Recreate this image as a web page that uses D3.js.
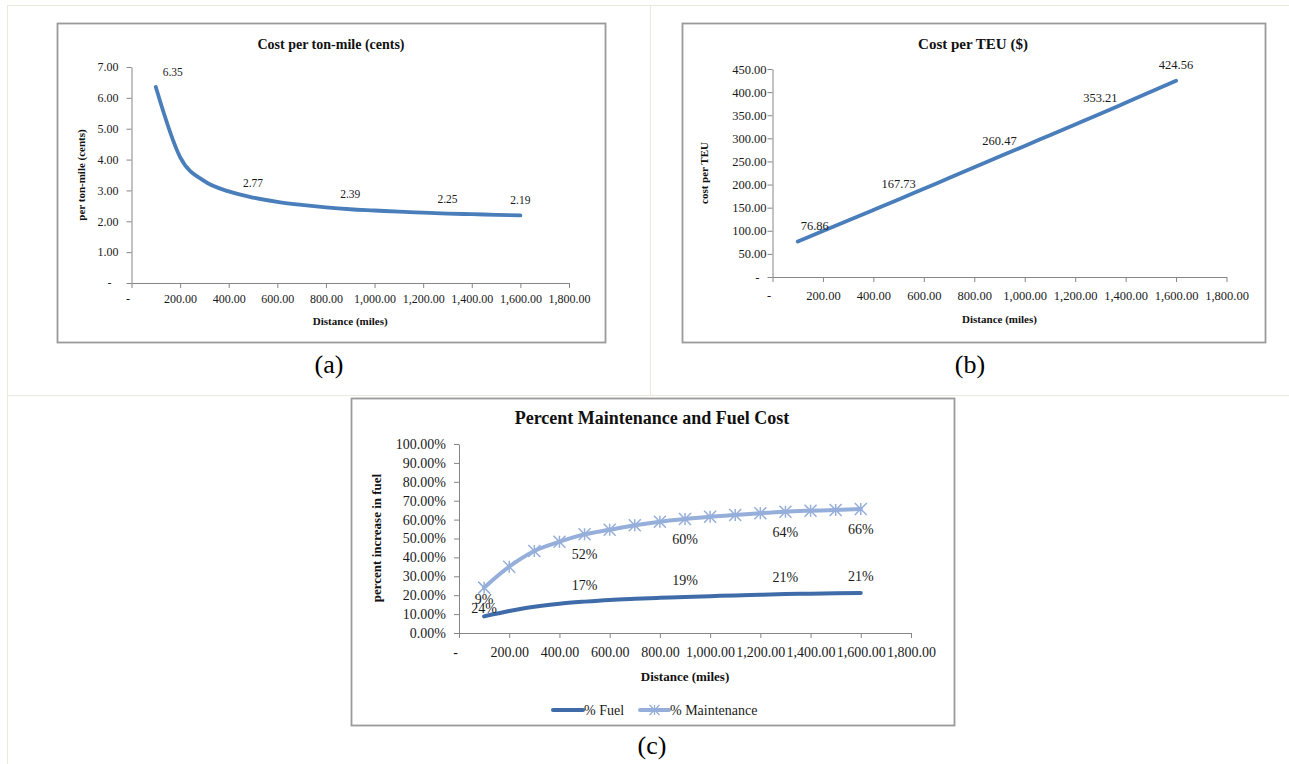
<!DOCTYPE html>
<html>
<head>
<meta charset="utf-8">
<script src="https://cdn.jsdelivr.net/npm/d3@7"></script>
<style>
  html, body { margin: 0; padding: 0; background: #fff; }
  svg { display: block; }
</style>
</head>
<body>
<svg id="chart" width="1289" height="764"></svg>
<script>
// ---------- data ----------
const distances = [100, 200, 300, 400, 500, 600, 700, 800, 900, 1000, 1100, 1200, 1300, 1400, 1500, 1600];
const xTickValues = [0, 200, 400, 600, 800, 1000, 1200, 1400, 1600, 1800];

const costPerTonMile = [6.35, 4.08, 3.30, 2.97, 2.77, 2.63, 2.53, 2.45, 2.39, 2.35, 2.31, 2.28, 2.25, 2.23, 2.21, 2.19];
const tonMileTicks = [0, 1, 2, 3, 4, 5, 6, 7];

const costPerTEU = [76.86, 99.4, 122.1, 144.9, 167.73, 190.9, 214.0, 237.2, 260.47, 283.6, 306.8, 330.0, 353.21, 376.9, 400.7, 424.56];
const teuTicks = [0, 50, 100, 150, 200, 250, 300, 350, 400, 450];

const fuelPct = [8.8, 11.6, 13.9, 15.5, 16.6, 17.5, 18.1, 18.6, 19.1, 19.5, 19.9, 20.2, 20.6, 20.8, 21.0, 21.2];
const maintenancePct = [24.0, 35.1, 43.4, 48.3, 52.2, 54.6, 57.0, 58.9, 60.3, 61.5, 62.4, 63.4, 64.2, 64.7, 65.1, 65.6];
const pctTicks = [0, 10, 20, 30, 40, 50, 60, 70, 80, 90, 100];

const labelIndices = [0, 4, 8, 12, 15];
const seriesNames = ["% Fuel", "% Maintenance"];

// ---------- helpers ----------
const FONT = "'Liberation Serif', 'Times New Roman', 'DejaVu Serif', serif";
const svg = d3.select("#chart").style("font-family", FONT);
const fmtNum = v => v === 0 ? "-" : d3.format(",.2f")(v);
const fmtPct = v => d3.format(".2f")(v) + "%";
const AXIS = "#868686";
const TXT = "#1a1a1a";

// outer table grid
const grid = svg.append("g").attr("stroke", "#ebe9dc").attr("stroke-width", 1);
grid.append("line").attr("x1", 7).attr("x2", 1289).attr("y1", 5.5).attr("y2", 5.5);
grid.append("line").attr("x1", 7.5).attr("x2", 7.5).attr("y1", 5).attr("y2", 764);
grid.append("line").attr("x1", 650.5).attr("x2", 650.5).attr("y1", 5).attr("y2", 395);
grid.append("line").attr("x1", 7).attr("x2", 1289).attr("y1", 395.5).attr("y2", 395.5);

function frame(x0, y0, x1, y1) {
  svg.append("rect").attr("x", x0 + 0.5).attr("y", y0 + 0.5)
    .attr("width", x1 - x0).attr("height", y1 - y0)
    .attr("fill", "#fff").attr("stroke", "#9a9a9a").attr("stroke-width", 1.8);
}

function styleAxis(g, size) {
  g.attr("font-family", null).attr("font-size", null);
  g.select(".domain").attr("stroke", AXIS).attr("stroke-width", 1);
  g.selectAll(".tick line").attr("stroke", AXIS).attr("stroke-width", 1);
  g.selectAll(".tick text").attr("fill", TXT).style("font-family", FONT).style("font-size", size + "px");
}

function addText(x, y, str, size, bold, anchor) {
  return svg.append("text").attr("x", x).attr("y", y).attr("text-anchor", anchor || "middle")
    .attr("font-weight", bold ? "bold" : "normal").style("font-family", FONT)
    .style("font-size", size + "px").attr("fill", "#111").text(str);
}

function drawAxes(o) {
  const x = d3.scaleLinear().domain([0, 1800]).range([o.px0, o.px1]);
  const y = d3.scaleLinear().domain([0, o.yMax]).range([o.py0, o.py1]);
  const gx = svg.append("g").attr("transform", `translate(0,${o.py0})`)
    .call(d3.axisBottom(x).tickValues(xTickValues).tickFormat(fmtNum).tickSize(5).tickSizeOuter(0).tickPadding(o.xPad));
  styleAxis(gx, o.tickSize);
  gx.selectAll(".tick text").filter(d => d === 0).attr("dx", -4);
  const gy = svg.append("g").attr("transform", `translate(${o.px0},0)`)
    .call(d3.axisLeft(y).tickValues(o.yTicks).tickFormat(o.yFmt).tickSize(5).tickSizeOuter(0).tickPadding(o.yPad));
  styleAxis(gy, o.tickSize);
  gy.selectAll(".tick text").filter(d => d === 0 && o.yFmt === fmtNum).attr("dx", -7);
  addText(o.titleX, o.titleY, o.title, o.titleSize, true);
  addText((o.px0 + o.px1) / 2, o.xLabY, "Distance (miles)", o.axTitleSize, true);
  addText(0, 0, o.yTitle, o.axTitleSize, true).attr("transform", `translate(${o.yLabX},${o.yLabY}) rotate(-90)`);
  return { x, y };
}

function drawLine(sc, values, color, width, curve) {
  const line = d3.line().x((d, i) => sc.x(distances[i])).y(d => sc.y(d)).curve(curve);
  svg.append("path").datum(values).attr("d", line).attr("fill", "none")
    .attr("stroke", color).attr("stroke-width", width).attr("stroke-linecap", "round").attr("stroke-linejoin", "round");
}

function drawLabels(sc, values, fmt, size, dy, firstDx) {
  svg.append("g").selectAll("text").data(labelIndices).join("text")
    .attr("x", (d, k) => sc.x(distances[d]) + (k === 0 ? firstDx : 0))
    .attr("y", d => sc.y(values[d]) + dy)
    .attr("dy", "0.35em").attr("text-anchor", "middle")
    .style("font-family", FONT).style("font-size", size + "px").attr("fill", TXT)
    .text(d => fmt(values[d]));
}

// ---------- (a) Cost per ton-mile ----------
frame(57, 23, 605, 342);
const scA = drawAxes({
  px0: 131.5, px1: 569, py0: 283, py1: 67, yMax: 7, yTicks: tonMileTicks, yFmt: fmtNum,
  tickSize: 12, xPad: 6, yPad: 8,
  title: "Cost per ton-mile (cents)", titleX: 331, titleY: 49, titleSize: 14,
  yTitle: "per ton-mile (cents)", yLabX: 85, yLabY: 175, xLabY: 325, axTitleSize: 11
});
drawLine(scA, costPerTonMile, "#4a7ebb", 3.8, d3.curveMonotoneX);
drawLabels(scA, costPerTonMile, d3.format(".2f"), 11.5, -15, 17);

// ---------- (b) Cost per TEU ----------
frame(682, 23, 1265, 342);
const scB = drawAxes({
  px0: 772.5, px1: 1226.5, py0: 277, py1: 69, yMax: 450, yTicks: teuTicks, yFmt: fmtNum,
  tickSize: 12.5, xPad: 9, yPad: 1,
  title: "Cost per TEU ($)", titleX: 973, titleY: 49, titleSize: 15,
  yTitle: "cost per TEU", yLabX: 708, yLabY: 173, xLabY: 323, axTitleSize: 11
});
drawLine(scB, costPerTEU, "#4a7ebb", 3.8, d3.curveMonotoneX);
drawLabels(scB, costPerTEU, d3.format(".2f"), 12.5, -16, 17);

// ---------- (c) Percent maintenance and fuel ----------
frame(351, 398, 954, 725);
const scC = drawAxes({
  px0: 459, px1: 911, py0: 633, py1: 444, yMax: 100, yTicks: pctTicks, yFmt: fmtPct,
  tickSize: 14, xPad: 9, yPad: 8,
  title: "Percent Maintenance and Fuel Cost", titleX: 652, titleY: 424, titleSize: 18,
  yTitle: "percent increase in fuel", yLabX: 381, yLabY: 538, xLabY: 681, axTitleSize: 13
});
const FUEL = "#3f6ca8", MAINT = "#95afda";
drawLine(scC, fuelPct, FUEL, 4, d3.curveMonotoneX);
drawLine(scC, maintenancePct, MAINT, 4, d3.curveMonotoneX);
const star = s => `M${-s},${-s}L${s},${s}M${-s},${s}L${s},${-s}M0,${-s}L0,${s}`;
svg.append("g").selectAll("path").data(maintenancePct).join("path")
  .attr("transform", (d, i) => `translate(${scC.x(distances[i])},${scC.y(d)})`)
  .attr("d", star(6)).attr("stroke", MAINT).attr("stroke-width", 1.5).attr("fill", "none");
const pctLabel = v => Math.round(v) + "%";
drawLabels(scC, fuelPct, pctLabel, 14, -17, 0);
drawLabels(scC, maintenancePct, pctLabel, 14, 20, 0);

// legend
const lg = svg.append("g").attr("transform", "translate(0,710)");
lg.append("line").attr("x1", 553).attr("x2", 583).attr("stroke", FUEL).attr("stroke-width", 4).attr("stroke-linecap", "round");
lg.append("text").attr("x", 584).attr("dy", "0.35em").style("font-family", FONT).style("font-size", "14px").attr("fill", TXT).text(seriesNames[0]);
lg.append("line").attr("x1", 640).attr("x2", 669).attr("stroke", MAINT).attr("stroke-width", 4).attr("stroke-linecap", "round");
lg.append("path").attr("transform", "translate(654.5,0)").attr("d", star(5)).attr("stroke", MAINT).attr("stroke-width", 1.3).attr("fill", "none");
lg.append("text").attr("x", 670).attr("dy", "0.35em").style("font-family", FONT).style("font-size", "14px").attr("fill", TXT).text(seriesNames[1]);

// captions
const caps = [["(a)", 329, 364], ["(b)", 970, 364], ["(c)", 652, 745]];
svg.append("g").selectAll("text").data(caps).join("text")
  .attr("x", d => d[1]).attr("y", d => d[2]).attr("dy", "0.35em").attr("text-anchor", "middle")
  .style("font-family", FONT).style("font-size", "26px").attr("fill", "#000").text(d => d[0]);
</script>
</body>
</html>
